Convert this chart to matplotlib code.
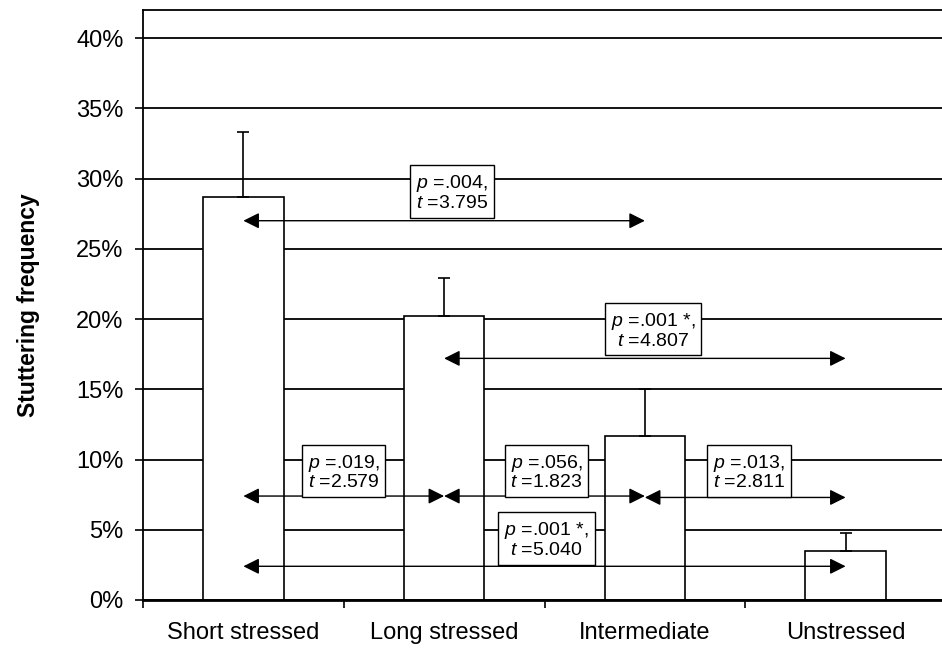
import matplotlib
matplotlib.use("Agg")
import matplotlib.pyplot as plt
from matplotlib.ticker import MultipleLocator, FuncFormatter

plt.rcParams['font.family'] = ['Liberation Sans', 'DejaVu Sans']
plt.rcParams['mathtext.fontset'] = 'custom'
plt.rcParams['mathtext.rm'] = 'Liberation Sans'
plt.rcParams['mathtext.it'] = 'Liberation Sans:italic'

# bar data (percent)
categories = ['Short stressed', 'Long stressed', 'Intermediate', 'Unstressed']
freq = [28.7, 20.2, 11.7, 3.5]
err = [4.6, 2.7, 3.3, 1.3]

# pairwise comparisons
pair_from = [0, 1, 0, 1, 2, 0]
pair_to = [2, 3, 1, 2, 3, 3]
arrow_y = [27.0, 17.2, 7.4, 7.4, 7.3, 2.4]
p_vals = ['.004,', '.001 *,', '.019,', '.056,', '.013,', '.001 *,']
t_vals = ['3.795', '4.807', '2.579', '1.823', '2.811', '5.040']
label_x = [1.04, 2.04, 0.5, 1.51, 2.52, 1.51]
label_y = [29.0, 19.2, 9.1, 9.1, 9.1, 4.3]

fig = plt.figure(figsize=(9.42, 6.51), dpi=100)
ax = fig.add_axes([143/942, 51/651, 803/942, 590/651])

# gridlines under bars
ax.set_axisbelow(True)
ax.yaxis.grid(True, color='black', linewidth=1.3)

x = range(len(categories))
ax.bar(x, freq, width=0.4, color='white', edgecolor='black', linewidth=1.2, zorder=2)
ax.errorbar(x, freq, yerr=[[0]*len(err), err], fmt='none', ecolor='black',
            elinewidth=1.2, capsize=4, capthick=1.2, zorder=3)

for i in range(len(pair_from)):
    ax.annotate('', xy=(pair_to[i], arrow_y[i]), xytext=(pair_from[i], arrow_y[i]),
                arrowprops=dict(arrowstyle='<|-|>', color='black', lw=1.0,
                                mutation_scale=24, shrinkA=0, shrinkB=0),
                zorder=5)
    txt = r'$\mathit{p}$ =' + p_vals[i] + '\n' + r'$\mathit{t}$ =' + t_vals[i]
    ax.text(label_x[i], label_y[i], txt, ha='center', va='center', fontsize=14,
            multialignment='center', linespacing=1.05, zorder=6,
            bbox=dict(boxstyle='square,pad=0.3', facecolor='white',
                      edgecolor='black', linewidth=1.0))

ax.set_xlim(-0.5, 3.5)
ax.set_ylim(0, 42)
ax.yaxis.set_major_locator(MultipleLocator(5))
ax.yaxis.set_major_formatter(FuncFormatter(lambda v, pos: '%d%%' % v))
ax.set_xticks([-0.5, 0.5, 1.5, 2.5, 3.5])
ax.set_xticklabels([])
ax.set_xticks(list(x), minor=True)
ax.set_xticklabels(categories, minor=True)
ax.tick_params(axis='x', which='minor', length=0, pad=16, labelsize=17)
ax.tick_params(axis='x', which='major', length=6, width=1.2, direction='out')
ax.tick_params(axis='y', length=6, width=1.2, direction='out', labelsize=17, pad=8)

for side in ['left', 'top', 'bottom', 'right']:
    ax.spines[side].set_linewidth(1.3)
ax.spines['bottom'].set_linewidth(2)

ax.set_ylabel('Stuttering frequency', fontsize=16.5, fontweight='bold', labelpad=26)

fig.savefig('out.png', dpi=100)
